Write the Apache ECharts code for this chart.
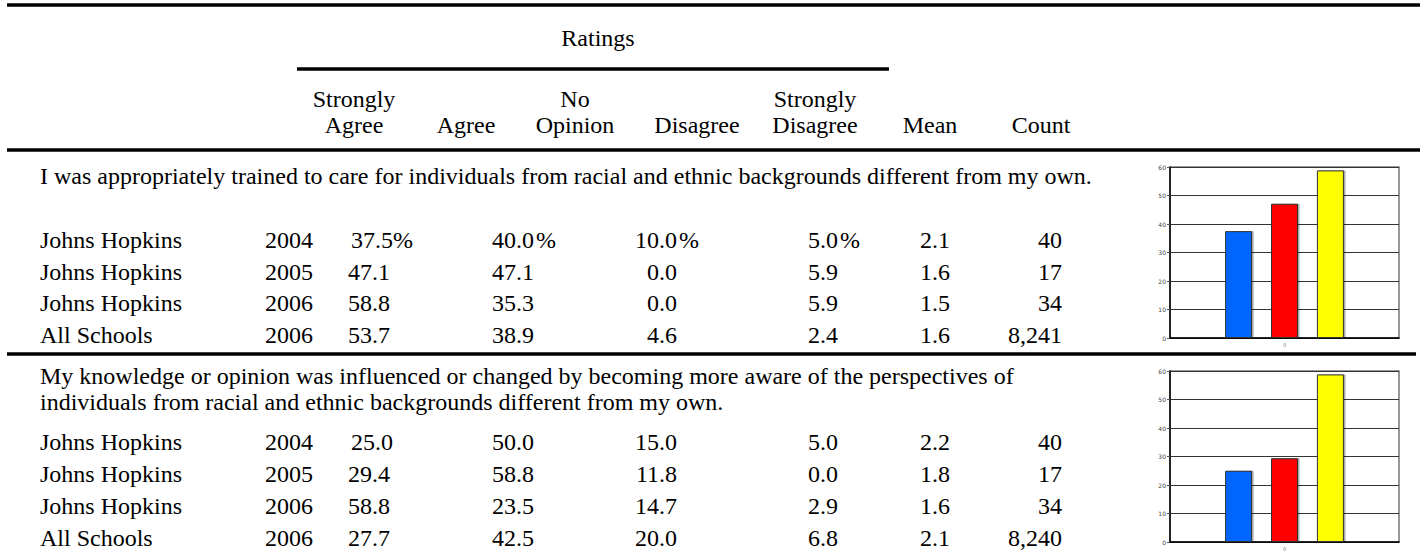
<!DOCTYPE html>
<html>
<head>
<meta charset="utf-8">
<script src="https://cdn.jsdelivr.net/npm/echarts@6/dist/echarts.min.js"></script>
<style>
html,body{margin:0;padding:0;background:#fff;}
#c{width:1420px;height:556px;}
</style>
</head>
<body>
<div id="c"></div>
<script>
// ---------- data ----------
const groupTitle = 'Ratings';
const columnHeaders = [
  ['Strongly', 'Agree'], ['', 'Agree'], ['No', 'Opinion'], ['', 'Disagree'],
  ['Strongly', 'Disagree'], ['', 'Mean'], ['', 'Count']
];
const questions = [
  ['I was appropriately trained to care for individuals from racial and ethnic backgrounds different from my own.'],
  ['My knowledge or opinion was influenced or changed by becoming more aware of the perspectives of',
   'individuals from racial and ethnic backgrounds different from my own.']
];
const rowSchools = ['Johns Hopkins', 'Johns Hopkins', 'Johns Hopkins', 'All Schools'];
const rowYears = ['2004', '2005', '2006', '2006'];
// question 1 values per row (shown columns)
const q1StronglyAgree = [37.5, 47.1, 58.8, 53.7];
const q1Agree = [40.0, 47.1, 35.3, 38.9];
const q1NoOpinion = [10.0, 0.0, 0.0, 4.6];
const q1Disagree = [5.0, 5.9, 5.9, 2.4];
const q1Mean = [2.1, 1.6, 1.5, 1.6];
const q1Count = [40, 17, 34, 8241];
// question 2 values per row
const q2StronglyAgree = [25.0, 29.4, 58.8, 27.7];
const q2Agree = [50.0, 58.8, 23.5, 42.5];
const q2NoOpinion = [15.0, 11.8, 14.7, 20.0];
const q2Disagree = [5.0, 0.0, 2.9, 6.8];
const q2Mean = [2.2, 1.8, 1.6, 2.1];
const q2Count = [40, 17, 34, 8240];
const q1ShowPercent = true;
const q2ShowPercent = false;
// mini charts: Johns Hopkins "Strongly Agree" by year
const chartCategories = ['0'];
const chartYears = ['2004', '2005', '2006'];
const chart1Values = [37.5, 47.1, 58.8];
const chart2Values = [25.0, 29.4, 58.8];
const chartColors = ['#0066FF', '#FF0000', '#FFFF00'];

// ---------- layout ----------
const FONT = '"Liberation Serif", "Times New Roman", serif';
const FS = 24;
const g = [];
function txt(s, x, y, align) {
  g.push({type: 'text', x: x, y: y, silent: true,
    style: {text: s, fill: '#000', fontSize: FS, fontFamily: FONT,
      textAlign: align || 'left', textVerticalAlign: 'middle', verticalAlign: 'middle'}});
}
function hline(x1, x2, y, w) {
  g.push({type: 'rect', silent: true, shape: {x: x1, y: y - w / 2, width: x2 - x1, height: w},
    style: {fill: '#000'}});
}
// header
hline(7, 1420, 5, 3.5);
txt(groupTitle, 598, 38, 'center');
hline(297, 889, 69, 3.5);
const headerX = [354, 466, 575, 697, 815, 930, 1041];
columnHeaders.forEach((h, i) => {
  if (h[0]) txt(h[0], headerX[i], 99, 'center');
  txt(h[1], headerX[i], 125, 'center');
});
hline(7, 1420, 150, 3.5);

const f1 = v => v.toFixed(1);
function section(qLines, qY, rowY, sa, ag, no, di, mean, cnt, pct) {
  qLines.forEach((l, i) => txt(l, 40, qY + i * 26, 'left'));
  rowY.forEach((y, r) => {
    const p = pct && r === 0;
    txt(rowSchools[r], 40, y, 'left');
    txt(rowYears[r], 265, y, 'left');
    txt(f1(sa[r]) + (p ? '%' : ''), r === 0 ? 351 : 348, y, 'left');
    txt(f1(ag[r]) + (p ? '\u200a%' : ''), 492, y, 'left');
    txt(f1(no[r]), 677, y, 'right');
    if (p) txt('%', 679, y, 'left');
    txt(f1(di[r]) + (p ? '\u200a%' : ''), 808, y, 'left');
    txt(f1(mean[r]), 920, y, 'left');
    txt(cnt[r].toLocaleString('en-US'), 1062, y, 'right');
  });
}
section(questions[0], 176, [240, 271.5, 303, 334.5],
  q1StronglyAgree, q1Agree, q1NoOpinion, q1Disagree, q1Mean, q1Count, q1ShowPercent);
hline(7, 1416, 354, 3.5);
section(questions[1], 376, [442, 474, 506, 538],
  q2StronglyAgree, q2Agree, q2NoOpinion, q2Disagree, q2Mean, q2Count, q2ShowPercent);

// ---------- mini charts ----------
const grids = [
  {left: 1170, top: 167, width: 229, height: 171},
  {left: 1170, top: 371, width: 229, height: 171}
].map(gr => Object.assign(gr, {show: true, borderColor: '#777', borderWidth: 1.5, backgroundColor: '#fff'}));

const xAxes = grids.map((_, i) => ({
  type: 'category', gridIndex: i, data: chartCategories,
  axisLine: {show: true, lineStyle: {color: '#000', width: 1.5}},
  axisTick: {show: false},
  axisLabel: {fontSize: 5, color: '#777', margin: 4, fontFamily: 'DejaVu Sans'}
}));
const yAxes = grids.map((_, i) => ({
  type: 'value', gridIndex: i, min: 0, max: 60, interval: 10,
  axisLine: {show: true, lineStyle: {color: '#000', width: 1.5}},
  axisTick: {show: true, length: 3, lineStyle: {color: '#555'}},
  axisLabel: {fontSize: 6, color: '#444', margin: 4, fontFamily: 'DejaVu Sans'},
  splitLine: {show: true, lineStyle: {color: '#333', width: 1}}
}));
const series = [];
[chart1Values, chart2Values].forEach((vals, gi) => {
  vals.forEach((v, k) => {
    series.push({
      type: 'bar', name: chartYears[k], xAxisIndex: gi, yAxisIndex: gi,
      data: [v], barWidth: 27, barGap: '70%',
      itemStyle: {color: chartColors[k], borderColor: '#333', borderWidth: 1,
        shadowColor: 'rgba(0,0,0,0.35)', shadowOffsetX: 1.5, shadowOffsetY: 0, shadowBlur: 0},
      silent: true, animation: false
    });
  });
});

const chart = echarts.init(document.getElementById('c'), null, {renderer: 'svg', width: 1420, height: 556});
chart.setOption({
  backgroundColor: '#fff',
  animation: false,
  grid: grids, xAxis: xAxes, yAxis: yAxes, series: series,
  graphic: g
});
</script>
</body>
</html>
